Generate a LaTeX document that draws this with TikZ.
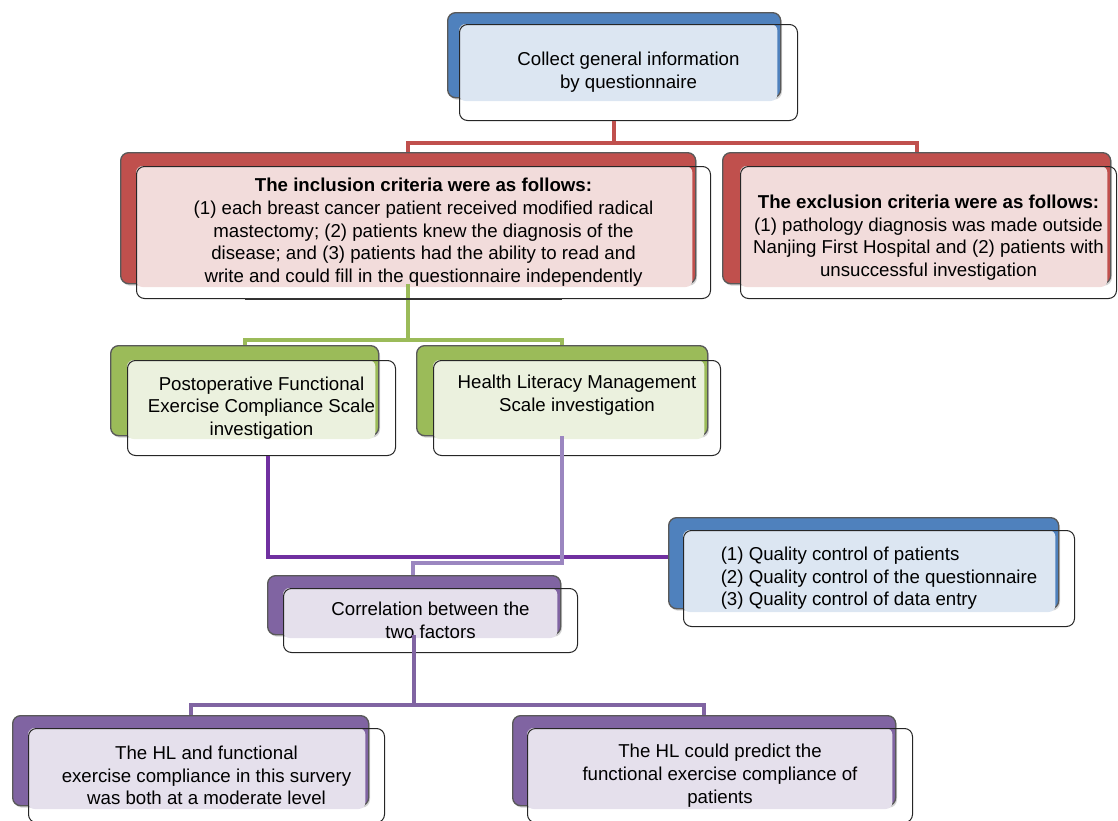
\documentclass[tikz,border=0pt]{standalone}
\usepackage{fontspec}
\setmainfont{Liberation Sans}
\usetikzlibrary{shadows}

\definecolor{blueD}{RGB}{79,129,189}
\definecolor{blueL}{RGB}{220,230,242}
\definecolor{redD}{RGB}{192,80,77}
\definecolor{redL}{RGB}{242,220,219}
\definecolor{greenD}{RGB}{155,187,89}
\definecolor{greenL}{RGB}{235,241,222}
\definecolor{purpleD}{RGB}{128,100,162}
\definecolor{purpleL}{RGB}{229,224,236}
\definecolor{violetLine}{RGB}{112,48,160}
\definecolor{lilacLine}{RGB}{155,134,192}

\tikzset{every picture/.style={line width=0.75pt}}
\tikzset{
  backbox/.style={draw=black!65, line width=1pt, fill=#1, rounded corners=6pt, anchor=north west, inner sep=0pt,
    drop shadow={opacity=0.35, shadow xshift=1pt, shadow yshift=-1.5pt}},
  panel/.style={fill=#1, rounded corners=5pt},
  frontbox/.style={draw=black!85, rounded corners=6pt, anchor=north west, inner sep=0pt, align=center,
    font=\fontsize{14}{17}\selectfont},
  linkline/.style={draw=#1, line width=3.2pt},
}

\begin{document}
\begin{tikzpicture}[x=0.75pt,y=0.75pt,yscale=-1,xscale=1]
\path[use as bounding box] (0,0) rectangle (1118,821);

%Shape: Back boxes
\node[backbox=blueD, minimum width=249.75pt, minimum height=63.75pt] (collectbk) at (447,12) {};
\node[backbox=redD, minimum width=431.25pt, minimum height=98.25pt] (inclbk) at (120,152) {};
\node[backbox=redD, minimum width=291pt, minimum height=98.25pt] (exclbk) at (722,152) {};
\node[backbox=greenD, minimum width=201pt, minimum height=67.5pt] (postbk) at (110,345) {};
\node[backbox=greenD, minimum width=218.25pt, minimum height=67.5pt] (healthbk) at (416,345) {};
\node[backbox=blueD, minimum width=292.5pt, minimum height=68.25pt] (qcbk) at (668,517) {};
\node[backbox=purpleD, minimum width=219.75pt, minimum height=44.25pt] (corrbk) at (267,575) {};
\node[backbox=purpleD, minimum width=267pt, minimum height=67.5pt] (levelbk) at (12,715) {};
\node[backbox=purpleD, minimum width=287.25pt, minimum height=67.5pt] (predictbk) at (512,715) {};

%Shape: Light panels
\fill[panel=blueL] (459,24) rectangle ([shift={(-3pt,2pt)}]collectbk.south east);
\fill[panel=redL] (136,166) rectangle ([shift={(-3pt,2pt)}]inclbk.south east);
\fill[panel=redL] (740,166) rectangle ([shift={(-3pt,2pt)}]exclbk.south east);
\fill[panel=greenL] (127,360) rectangle ([shift={(-3pt,2pt)}]postbk.south east);
\fill[panel=greenL] (433,360) rectangle ([shift={(-3pt,2pt)}]healthbk.south east);
\fill[panel=blueL] (683,530) rectangle ([shift={(-3pt,2pt)}]qcbk.south east);
\fill[panel=purpleL] (283,588) rectangle ([shift={(-3pt,2pt)}]corrbk.south east);
\fill[panel=purpleL] (28,728) rectangle ([shift={(-3pt,2pt)}]levelbk.south east);
\fill[panel=purpleL] (527,728) rectangle ([shift={(-3pt,2pt)}]predictbk.south east);

% Text Node
\node[frontbox, minimum width=253.5pt, minimum height=72pt] (collect) at (459,24) {Collect general information\\by questionnaire};
% Text Node
\node[frontbox, minimum width=430.5pt, minimum height=99pt] (incl) at (136,166) {\textbf{The inclusion criteria were as follows:}\\(1) each breast cancer patient received modified radical\\mastectomy; (2) patients knew the diagnosis of the\\disease; and (3) patients had the ability to read and\\write and could fill in the questionnaire independently};
% Text Node
\node[frontbox, minimum width=282pt, minimum height=99pt] (excl) at (740,166) {\rule{0pt}{18pt}\textbf{The exclusion criteria were as follows:}\\(1) pathology diagnosis was made outside\\Nanjing First Hospital and (2) patients with\\unsuccessful investigation};
% Text Node
\node[frontbox, minimum width=201pt, minimum height=71.25pt] (post) at (127,360) {Postoperative Functional\\Exercise Compliance Scale\\investigation};
% Text Node
\node[frontbox, minimum width=215.25pt, minimum height=71.25pt] (health) at (433,360) {Health Literacy Management\\Scale investigation\\\strut};
% Text Node
\node[frontbox, minimum width=293.25pt, minimum height=72pt] (qc) at (683,530) {\begin{tabular}{@{}l@{}}(1) Quality control of patients\\(2) Quality control of the questionnaire\\(3) Quality control of data entry\end{tabular}};
% Text Node
\node[frontbox, minimum width=220.5pt, minimum height=48pt] (corr) at (283,588) {Correlation between the\\two factors};
% Text Node
\node[frontbox, minimum width=267pt, minimum height=70.5pt] (level) at (28,728) {The HL and functional\\exercise compliance in this survery\\was both at a moderate level};
% Text Node
\node[frontbox, minimum width=288.75pt, minimum height=70.5pt] (predict) at (527,728) {The HL could predict the\\functional exercise compliance of\\patients};

\coordinate (redbus) at (0,143);
\coordinate (greenbus) at (0,340);
\coordinate (darkbend) at (268,557);
\coordinate (lightbend) at (413,563);
\coordinate (purplebus) at (0,705);

% Connection
\draw[linkline=redD] (collectbk.south |- collect.south) -- (collectbk.south |- redbus) coordinate (redjoin);
\draw[linkline=redD] (inclbk.north) |- (redjoin) -| (exclbk.north);
% Connection
\draw[linkline=greenD] (inclbk.south) -- (inclbk.south |- greenbus) coordinate (greenjoin);
\draw[linkline=greenD] (postbk.north) |- (greenjoin) -| (healthbk.north);
\draw[line width=1.5pt, black!80] (incl.south -| postbk.north) -- (incl.south -| healthbk.north);
% Connection
\draw[linkline=violetLine, line width=3.6pt] (darkbend |- post.south) -- (darkbend) -- (darkbend -| qcbk.west);
% Connection
\draw[linkline=lilacLine] (healthbk.south) |- (lightbend) -- (lightbend |- corrbk.north);
% Connection
\draw[linkline=purpleD] (corrbk.south) -- (corrbk.south |- purplebus) coordinate (purplejoin);
\draw[linkline=purpleD] (levelbk.north) |- (purplejoin) -| (predictbk.north);

\end{tikzpicture}
\end{document}
